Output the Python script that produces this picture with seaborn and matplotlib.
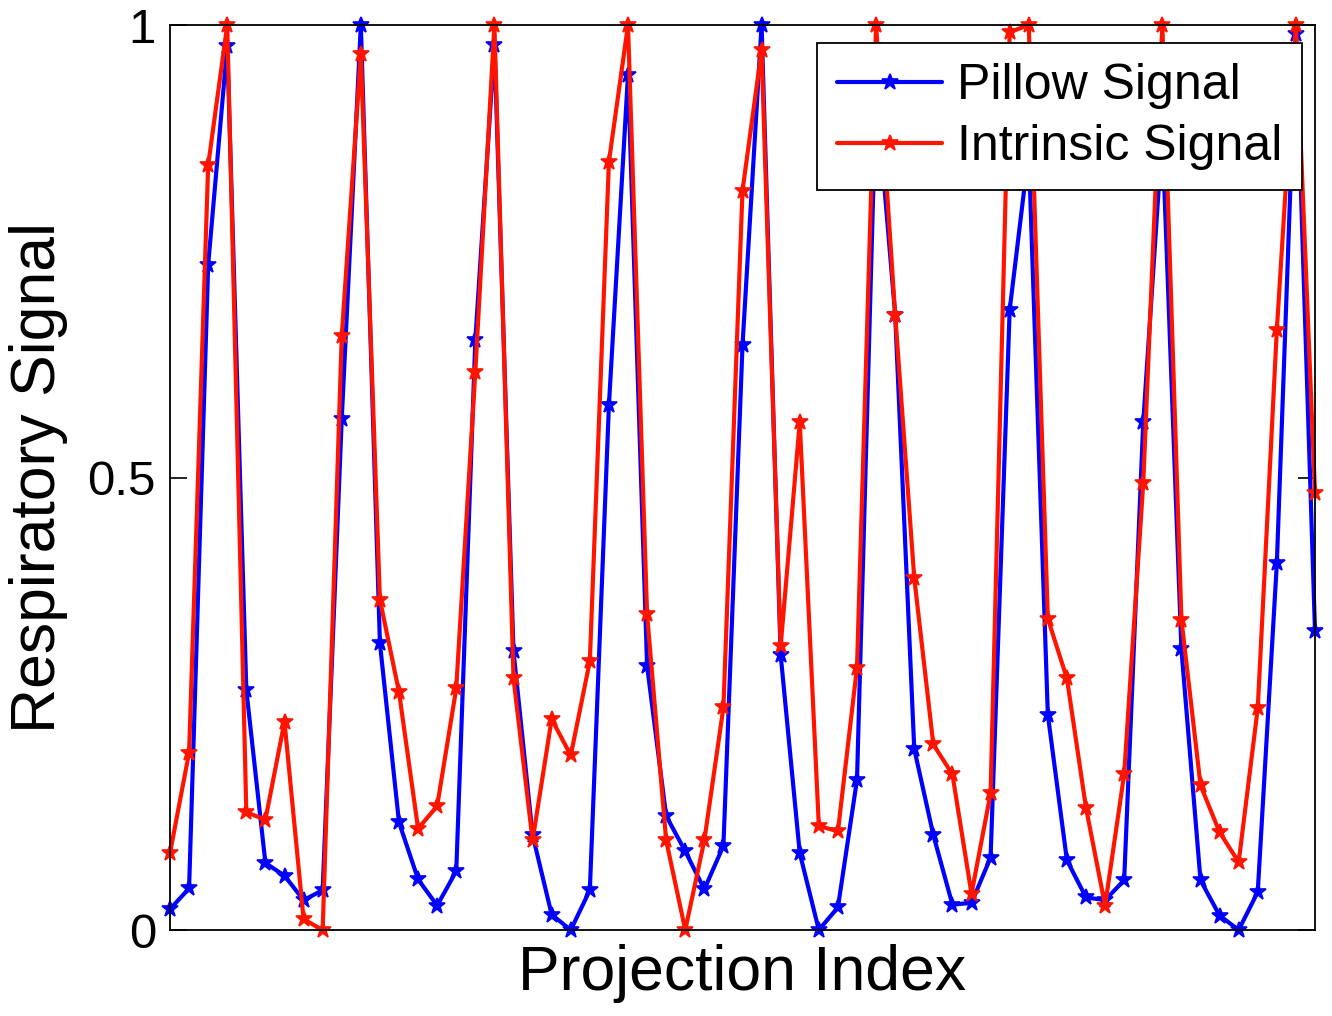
import numpy as np
import pandas as pd
import matplotlib
matplotlib.use("Agg")
import matplotlib.pyplot as plt
import seaborn as sns

projection_index = list(range(61))

pillow_signal = [
    0.023, 0.046, 0.735, 0.977, 0.265, 0.074, 0.060, 0.033, 0.044, 0.565,
    1.000, 0.317, 0.119, 0.056, 0.027, 0.065, 0.652, 0.978, 0.308, 0.105,
    0.017, 0.000, 0.044, 0.580, 0.945, 0.292, 0.126, 0.087, 0.045, 0.093,
    0.646, 1.000, 0.304, 0.085, 0.000, 0.025, 0.166, 0.930, 0.680, 0.200,
    0.105, 0.028, 0.030, 0.080, 0.685, 0.860, 0.238, 0.077, 0.036, 0.033,
    0.055, 0.561, 0.880, 0.310, 0.055, 0.016, 0.000, 0.042, 0.405, 0.990,
    0.330,
]

intrinsic_signal = [
    0.085, 0.196, 0.845, 1.000, 0.130, 0.122, 0.230, 0.012, 0.000, 0.656,
    0.968, 0.365, 0.263, 0.112, 0.137, 0.267, 0.617, 1.000, 0.278, 0.099,
    0.233, 0.193, 0.297, 0.849, 1.000, 0.349, 0.099, 0.000, 0.099, 0.246,
    0.817, 0.972, 0.314, 0.561, 0.115, 0.109, 0.290, 1.000, 0.680, 0.389,
    0.205, 0.172, 0.040, 0.151, 0.992, 1.000, 0.344, 0.278, 0.135, 0.027,
    0.172, 0.494, 1.000, 0.343, 0.160, 0.108, 0.075, 0.245, 0.663, 1.000,
    0.483,
]

series_names = ["Pillow Signal", "Intrinsic Signal"]
series_colors = ["#0000FF", "#FF1400"]
y_ticks = [0, 0.5, 1]
y_tick_labels = ["0", "0.5", "1"]

sns.set_theme(style="white")
plt.rcParams["font.family"] = ["Liberation Sans", "DejaVu Sans"]
plt.rcParams["text.color"] = "black"
plt.rcParams["axes.labelcolor"] = "black"

df = pd.DataFrame({
    "idx": projection_index * 2,
    "value": pillow_signal + intrinsic_signal,
    "series": [series_names[0]] * len(pillow_signal) + [series_names[1]] * len(intrinsic_signal),
})

fig = plt.figure(figsize=(13.32, 10.16), dpi=100)
ax = fig.add_axes([170 / 1332, 1 - 930 / 1016, (1315 - 170) / 1332, (930 - 25) / 1016])

sns.lineplot(
    data=df, x="idx", y="value", hue="series", hue_order=series_names,
    palette=dict(zip(series_names, series_colors)),
    marker="*", markersize=12, markeredgewidth=1.2, linewidth=3.0,
    ax=ax, legend=True, clip_on=False,
)
for line, c in zip(ax.get_lines(), series_colors):
    line.set_markeredgecolor(c)
    line.set_markerfacecolor(c)

ax.set_xlim(0, 60)
ax.set_ylim(0, 1)
ax.set_xticks([])
ax.set_yticks(y_ticks)
ax.set_yticklabels(y_tick_labels)
ax.tick_params(axis="y", direction="in", length=12, width=1.2, labelsize=35.5,
               left=True, right=True, pad=10, colors="black")
for s in ax.spines.values():
    s.set_color("black")
    s.set_linewidth(1.3)

ax.set_xlabel("Projection Index", fontsize=45, labelpad=10, color="black")
ax.set_ylabel("Respiratory Signal", fontsize=45, labelpad=14, color="black")

leg = ax.legend(loc="upper right", bbox_to_anchor=(0.989, 0.980), fontsize=36,
                frameon=True, fancybox=False, edgecolor="black", framealpha=1,
                handlelength=2.1, handletextpad=0.3, borderpad=0.4,
                labelspacing=0.3, borderaxespad=0.0)
leg.get_frame().set_linewidth(1.3)
leg.set_zorder(10)
for h, c in zip(leg.legend_handles, series_colors):
    h.set_markeredgecolor(c)
    h.set_markerfacecolor(c)
    h.set_linewidth(3.0)
for t in leg.get_texts():
    t.set_color("black")

fig.savefig("out.png", dpi=100)
